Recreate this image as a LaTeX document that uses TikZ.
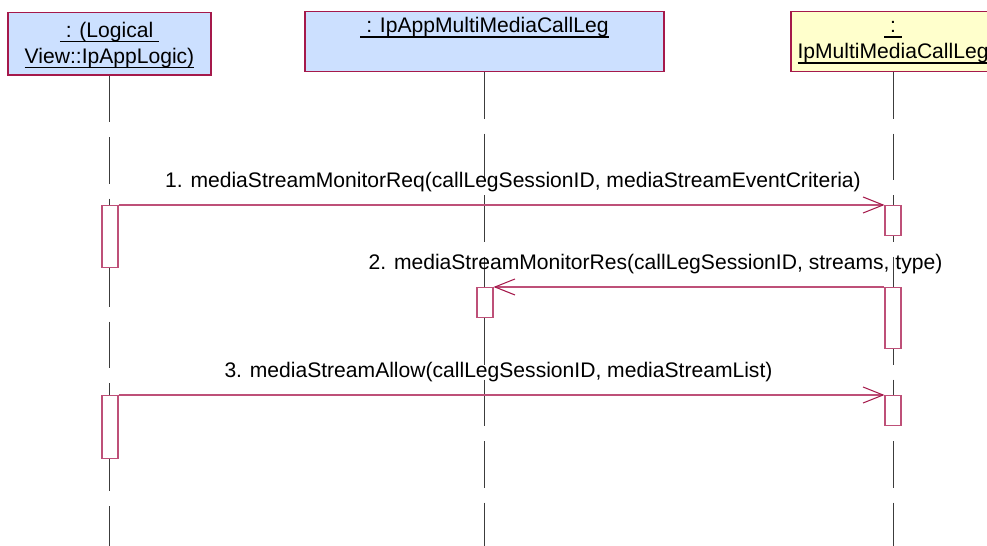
\documentclass[tikz,border=0pt]{standalone}
\usepackage{fontspec}
\setmainfont{Liberation Sans}
\usetikzlibrary{arrows.meta,positioning}

\definecolor{objblue}{RGB}{204,224,255}
\definecolor{objyellow}{RGB}{255,255,204}
\definecolor{umlred}{RGB}{165,25,75}
\definecolor{msgred}{RGB}{190,80,120}
\definecolor{lifegray}{RGB}{60,60,60}

\newsavebox\namebox
\newcommand{\objname}[1]{\sbox\namebox{#1}\rlap{\rule[-2.7pt]{\wd\namebox}{0.8pt}}\usebox\namebox}

\begin{document}
\begin{tikzpicture}[x=0.02cm, y=-0.02cm, font=\fontsize{12}{14.8}\selectfont]
    \tikzstyle{objbox}   = [draw=umlred, line width=0.75pt, rectangle, minimum height=1.2cm, inner sep=0pt]
    \tikzstyle{objtitle} = [align=center, inner sep=1pt]
    \tikzstyle{lifeline} = [draw=lifegray, line width=0.55pt, dash pattern=on 0.93cm off 0.3cm]
    \tikzstyle{act}      = [draw=msgred, line width=0.6pt, fill=white, rectangle, minimum width=0.32cm, inner sep=0pt, anchor=north]
    \tikzstyle{msg}      = [draw=msgred, line width=0.6pt, -{Straight Barb[length=0.4cm, width=0.32cm, color=umlred]}]
    \tikzstyle{msglabel} = [anchor=base, yshift=9.7pt, inner sep=0pt]

    % Frame
    \useasboundingbox (0,0) rectangle (987,546);
    \clip (0,0) rectangle (987,546);
    \coordinate (bottom) at (0,546);

    % Objects
    \node [objbox, fill=objblue, minimum width=4.06cm, minimum height=1.25cm] (app) at (109.5,43.75) {};
    \node [objbox, fill=objblue, minimum width=7.18cm] (appleg) at (484.5,41.5) {};
    \node [objbox, fill=objyellow, minimum width=4.08cm] (mmleg) at (893,41.5) {};

    \node [objtitle, below=3pt of app.north] (apptitle) {\objname{\ : (Logical\ }\strut\\\objname{View::IpAppLogic)}};
    \node [objtitle, below=1pt of appleg.north] (applegtitle) {\objname{\ : IpAppMultiMediaCallLeg}\strut};
    \node [objtitle, below=1pt of mmleg.north] (mmlegtitle) {\objname{\ :\ }\strut\\\objname{IpMultiMediaCallLeg}};

    % Lifelines
    \draw [lifeline] (app.south) -- (app.south |- bottom);
    \draw [lifeline] (appleg.south) -- (appleg.south |- bottom);
    \draw [lifeline] (mmleg.south) -- (mmleg.south |- bottom);

    % Activations
    \node [act, minimum height=1.24cm] (a1) at (110,205) {};
    \node [act, minimum height=0.6cm] (c1) at (893,205) {};
    \node [act, minimum height=0.6cm] (b1) at (485,287) {};
    \node [act, minimum height=1.22cm] (c2) at (893,287) {};
    \node [act, minimum height=1.26cm] (a2) at (110,395) {};
    \node [act, minimum height=0.6cm] (c3) at (893,395) {};

    % Messages
    \draw [msg] (a1.north east) -- node[msglabel, xshift=0.23cm] (m1) {1. mediaStreamMonitorReq(callLegSessionID, mediaStreamEventCriteria)} (c1.north west);
    \draw [msg] (c2.north west) -- node[msglabel, xshift=-0.67cm] (m2) {2. mediaStreamMonitorRes(callLegSessionID, streams, type)} (b1.north east);
    \draw [msg] (a2.north east) -- node[msglabel, xshift=-0.06cm] (m3) {3. mediaStreamAllow(callLegSessionID, mediaStreamList)} (c3.north west);
\end{tikzpicture}
\end{document}
